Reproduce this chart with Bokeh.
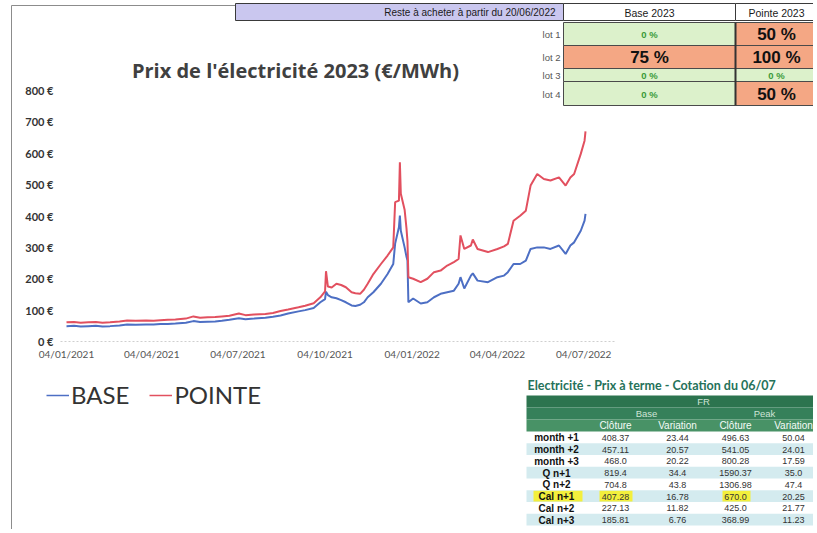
import numpy as np
import pandas as pd
from bokeh.plotting import figure
from bokeh.models import (Range1d, FixedTicker, PrintfTickFormatter, DatetimeTickFormatter,
                          Legend, LegendItem, ColumnDataSource)
from bokeh.embed import file_html
from bokeh.resources import INLINE
from bokeh.core.properties import value

# ---------------- data ----------------
dates = ["2021-01-04", "2021-01-12", "2021-01-19", "2021-01-27", "2021-02-04", "2021-02-11",
         "2021-02-19", "2021-03-01", "2021-03-09", "2021-03-18", "2021-03-29", "2021-04-06",
         "2021-04-13", "2021-04-21", "2021-04-29", "2021-05-10", "2021-05-18", "2021-05-25",
         "2021-06-02", "2021-06-10", "2021-06-17", "2021-06-25", "2021-07-05", "2021-07-12",
         "2021-07-21", "2021-08-02", "2021-08-10", "2021-08-18", "2021-08-26", "2021-09-06",
         "2021-09-13", "2021-09-22", "2021-09-29", "2021-10-04", "2021-10-05", "2021-10-07",
         "2021-10-11", "2021-10-16", "2021-10-21", "2021-10-26", "2021-11-01", "2021-11-05",
         "2021-11-10", "2021-11-14", "2021-11-18", "2021-11-24", "2021-12-02", "2021-12-09",
         "2021-12-15", "2021-12-17", "2021-12-21", "2021-12-22", "2021-12-23", "2021-12-27",
         "2021-12-29", "2021-12-30", "2021-12-31", "2022-01-05", "2022-01-13", "2022-01-20",
         "2022-01-27", "2022-02-03", "2022-02-10", "2022-02-17", "2022-02-22", "2022-02-24",
         "2022-02-28", "2022-03-07", "2022-03-09", "2022-03-14", "2022-03-25", "2022-04-04",
         "2022-04-11", "2022-04-15", "2022-04-21", "2022-04-28", "2022-05-04", "2022-05-09",
         "2022-05-16", "2022-05-23", "2022-05-30", "2022-06-08", "2022-06-15", "2022-06-20",
         "2022-06-24", "2022-07-01", "2022-07-05", "2022-07-06"]
pointe = [61, 62, 60, 61, 62, 60, 61, 64, 67, 66, 67, 66,
          68, 69, 70, 73, 80, 76, 77, 78, 80, 82, 89, 84,
          86, 88, 91, 97, 102, 109, 114, 122, 141, 160, 224, 175,
          172, 184, 180, 173, 157, 154, 152, 165, 184, 215, 247, 274,
          300, 444, 449, 571, 471, 420, 360, 320, 205, 200, 189, 200,
          221, 226, 242, 253, 263, 338, 295, 306, 325, 295, 285, 295,
          303, 311, 385, 401, 417, 497, 534, 518, 513, 523, 497, 523,
          534, 598, 640, 670]
base = [49, 50, 48, 49, 50, 48, 49, 51, 54, 53, 54, 54,
        56, 56, 57, 60, 65, 62, 63, 64, 66, 69, 74, 71,
        73, 76, 79, 83, 89, 96, 100, 107, 125, 135, 159, 148,
        141, 138, 132, 125, 115, 113, 117, 125, 141, 157, 184, 215,
        247, 312, 364, 401, 353, 300, 270, 258, 125, 137, 121, 125,
        141, 152, 157, 162, 184, 205, 169, 210, 217, 194, 189, 205,
        210, 221, 247, 247, 258, 295, 300, 300, 295, 306, 279, 306,
        316, 353, 385, 407]

x_tick_dates = ["2021-01-04", "2021-04-04", "2021-07-04", "2021-10-04",
                "2022-01-04", "2022-04-04", "2022-07-04"]
y_ticks = [0, 100, 200, 300, 400, 500, 600, 700, 800]

lots = ["lot 1", "lot 2", "lot 3", "lot 4"]
base_2023 = [0, 75, 0, 0]
pointe_2023 = [50, 100, 0, 50]

fwd_products = ["month +1", "month +2", "month +3", "Q n+1", "Q n+2", "Cal n+1", "Cal n+2", "Cal n+3"]
fwd_base_close = ["408.37", "457.11", "468.0", "819.4", "704.8", "407.28", "227.13", "185.81"]
fwd_base_var = ["23.44", "20.57", "20.22", "34.4", "43.8", "16.78", "11.82", "6.76"]
fwd_peak_close = ["496.63", "541.05", "800.28", "1590.37", "1306.98", "670.0", "425.0", "368.99"]
fwd_peak_var = ["50.04", "24.01", "17.59", "35.0", "47.4", "20.25", "21.77", "11.23"]
highlight_product = "Cal n+1"

# ---------------- layout constants ----------------
W, H = 813, 529
FR_L, FR_R, FR_T, FR_B = 60, 615, 90, 341
BLUE, RED = "#4d6fc4", "#e2505f"


def ms(d):
    return float((np.datetime64(d) - np.datetime64("1970-01-01T00:00")) / np.timedelta64(1, "ms"))


# ---------------- chart ----------------
p = figure(width=W, height=H, x_axis_type="datetime", title=None,
           x_range=Range1d(ms("2020-12-28T16:00"), ms("2022-08-06T16:00")),
           y_range=Range1d(0, 800),
           output_backend="svg", toolbar_location=None,
           min_border_left=FR_L, min_border_right=W - FR_R,
           min_border_top=FR_T, min_border_bottom=H - FR_B)
p.outline_line_color = None
p.grid.grid_line_color = None
p.background_fill_color = "white"
p.border_fill_color = "white"

p.yaxis.ticker = FixedTicker(ticks=y_ticks)
p.yaxis.formatter = PrintfTickFormatter(format="%d €")
p.yaxis.axis_line_color = None
p.yaxis.major_tick_line_color = None
p.yaxis.minor_tick_line_color = None
p.yaxis.major_tick_out = 0
p.yaxis.major_tick_in = 0
p.yaxis.major_label_standoff = 7
p.yaxis.major_label_text_font = "Lato"
p.yaxis.major_label_text_font_style = "bold"
p.yaxis.major_label_text_font_size = "11px"
p.yaxis.major_label_text_color = "#333333"

fmt = "%d/%m/%Y"
p.xaxis.ticker = FixedTicker(ticks=[ms(d) for d in x_tick_dates])
p.xaxis.formatter = DatetimeTickFormatter(microseconds=fmt, milliseconds=fmt, seconds=fmt, minsec=fmt,
                                          minutes=fmt, hourmin=fmt, hours=fmt, days=fmt,
                                          months=fmt, years=fmt, strip_leading_zeros=False)
p.xaxis.axis_line_color = "#cfcfcf"
p.xaxis.axis_line_dash = "2 2"
p.xaxis.major_tick_line_color = None
p.xaxis.minor_tick_line_color = None
p.xaxis.major_tick_out = 0
p.xaxis.major_tick_in = 0
p.xaxis.major_label_standoff = 6
p.xaxis.major_label_text_font = "Lato"
p.xaxis.major_label_text_font_size = "10px"
p.xaxis.major_label_text_color = "#555555"

src = ColumnDataSource(dict(date=pd.to_datetime(dates), base=base, pointe=pointe))
p.line("date", "base", source=src, line_color=BLUE, line_width=2)
p.line("date", "pointe", source=src, line_color=RED, line_width=2)

# ---------------- overlay (title, legend, tables) ----------------
ov = figure(width=W, height=H, title=None,
            x_range=Range1d(0, W), y_range=Range1d(H, 0),
            output_backend="svg", toolbar_location=None, min_border=0,
            x_axis_location=None, y_axis_location=None,
            background_fill_color=None, border_fill_color=None, outline_line_color=None,
            styles={"position": "absolute", "left": "0px", "top": "0px"})
ov.grid.grid_line_color = None

# chart object border
ov.segment(x0=[11, 11], y0=[5, 5], x1=[11, 235], y1=[H, 5], line_color="#8c8c8c", line_width=1)

# chart title
ov.text(x=[295], y=[70], text=["Prix de l'électricité 2023 (€/MWh)"], text_font=value("Open Sans"),
        text_font_size=value("20px"), text_font_style="bold", text_color="#404040",
        text_align="center", text_baseline="middle")

# legend keys (series styles only, no points of their own)
key_src = ColumnDataSource(dict(x=[np.nan], y=[np.nan]))
lg_base = ov.line("x", "y", source=key_src, line_color=BLUE, line_width=1.5)
lg_pointe = ov.line("x", "y", source=key_src, line_color=RED, line_width=1.5)
legend = Legend(items=[LegendItem(label="BASE", renderers=[lg_base]),
                       LegendItem(label="POINTE", renderers=[lg_pointe])],
                orientation="horizontal", location=(46, H - 409),
                label_text_font="Lato", label_text_font_size="24px", label_text_color="#333333",
                glyph_width=23, glyph_height=20, label_standoff=2, spacing=20,
                padding=0, margin=0, border_line_color=None, background_fill_alpha=0)
ov.add_layout(legend)

# --- top table
HB_L, HB_R, C1_R, C2_R, HB_T, HB_B = 235, 563, 735, W, 3, 20
C2_MID = 776
row_edges = [22, 45, 68, 81, 105]
GREEN_CELL, ORANGE_CELL = "#dcf1cb", "#f4a784"

ov.quad(left=[HB_L], right=[HB_R], top=[HB_T], bottom=[HB_B], fill_color="#cac7ef", line_color="#3a3a3a")
ov.quad(left=[HB_R, C1_R], right=[C1_R, C2_R], top=[HB_T, HB_T], bottom=[HB_B, HB_B],
        fill_color="white", line_color="#3a3a3a")
ov.text(x=[HB_R - 8], y=[(HB_T + HB_B) / 2 + 0.5], text=["Reste à acheter à partir du 20/06/2022"],
        text_font=value("Liberation Sans"), text_font_size=value("10px"), text_color="#1a1a1a",
        text_align="right", text_baseline="middle")
ov.text(x=[(HB_R + C1_R) / 2, C2_MID], y=[(HB_T + HB_B) / 2 + 0.5] * 2, text=["Base 2023", "Pointe 2023"],
        text_font=value("Liberation Sans"), text_font_size=value("10.5px"), text_color="#1a1a1a",
        text_align="center", text_baseline="middle")

cl, cr, ct, cb, cf = [], [], [], [], []
tx, ty, tt, tcol, tsize = [], [], [], [], []
for i, lot in enumerate(lots):
    top, bot = row_edges[i], row_edges[i + 1]
    mid = (top + bot) / 2
    for (l, r, v, xc) in [(HB_R, C1_R, base_2023[i], (HB_R + C1_R) / 2),
                          (C1_R, C2_R, pointe_2023[i], C2_MID)]:
        cl.append(l); cr.append(r); ct.append(top); cb.append(bot)
        cf.append(ORANGE_CELL if v > 0 else GREEN_CELL)
        tx.append(xc); ty.append(mid + 0.5); tt.append(f"{v} %")
        tcol.append("#111111" if v > 0 else "#3a9a3a")
        tsize.append("17px" if v > 0 else "9.5px")
ov.quad(left=cl, right=cr, top=ct, bottom=cb, fill_color=cf, line_color="#4a4a4a", line_width=1)
ov.segment(x0=[C1_R], y0=[row_edges[0]], x1=[C1_R], y1=[row_edges[-1]], line_color="#333333", line_width=2)
ov.text(x=tx, y=ty, text=tt, text_color=tcol, text_font_size=tsize, text_font=value("Liberation Sans"),
        text_font_style="bold", text_align="center", text_baseline="middle")
ov.text(x=[HB_R - 3] * len(lots), y=[(row_edges[i] + row_edges[i + 1]) / 2 + 0.5 for i in range(len(lots))],
        text=lots, text_font=value("Liberation Sans"), text_font_size=value("9.5px"), text_color="#555555",
        text_align="right", text_baseline="middle")

# --- bottom table (forward prices)
BT_L, BT_R = 526, W
col_x = [556, 615, 677, 735, 793]
hdr = [395, 407, 419, 431]
ROW_H = 11.75
ov.text(x=[527], y=[385], text=["Electricité - Prix à terme - Cotation du 06/07"], text_font=value("Lato"),
        text_font_size=value("12.5px"), text_font_style="bold", text_color="#25725a",
        text_align="left", text_baseline="middle")
ov.quad(left=[BT_L] * 3, right=[BT_R] * 3, top=hdr[:3], bottom=hdr[1:],
        fill_color=["#2c744f", "#35805a", "#489266"], line_color=None)
ov.text(x=[703, (col_x[1] + col_x[2]) / 2, (col_x[3] + col_x[4]) / 2],
        y=[(hdr[0] + hdr[1]) / 2, (hdr[1] + hdr[2]) / 2, (hdr[1] + hdr[2]) / 2],
        text=["FR", "Base", "Peak"], text_font=value("Liberation Sans"), text_font_size=value("9.5px"),
        text_color="#cfe3d6", text_align="center", text_baseline="middle")
ov.text(x=col_x[1:], y=[(hdr[2] + hdr[3]) / 2] * 4, text=["Clôture", "Variation", "Clôture", "Variation"],
        text_font=value("Liberation Sans"), text_font_size=value("10px"), text_color="#f4fbf6",
        text_align="center", text_baseline="middle")

n = len(fwd_products)
row_top = [hdr[3] + i * ROW_H for i in range(n)]
band_idx = [i for i in range(n) if i % 2 == 1]
ov.quad(left=[BT_L] * len(band_idx), right=[BT_R] * len(band_idx),
        top=[row_top[i] for i in band_idx], bottom=[row_top[i] + ROW_H for i in band_idx],
        fill_color="#d4ebef", line_color=None)
hi = fwd_products.index(highlight_product)
ov.quad(left=[533, 599, 722], right=[582, 632, 750], top=[row_top[hi] + 0.5] * 3,
        bottom=[row_top[hi] + ROW_H - 0.5] * 3, fill_color="#f3ef3c", line_color=None)

row_mid = [t + ROW_H / 2 + 0.5 for t in row_top]
ov.text(x=[col_x[0]] * n, y=row_mid, text=fwd_products, text_font=value("Liberation Sans"),
        text_font_size=value("10px"), text_font_style="bold", text_color="#111111",
        text_align="center", text_baseline="middle")
for cx, vals in zip(col_x[1:], [fwd_base_close, fwd_base_var, fwd_peak_close, fwd_peak_var]):
    ov.text(x=[cx] * n, y=row_mid, text=vals, text_font=value("Liberation Sans"),
            text_font_size=value("9px"), text_color="#333333",
            text_align="center", text_baseline="middle")

open("out.html", "w").write(file_html([p, ov], INLINE))
